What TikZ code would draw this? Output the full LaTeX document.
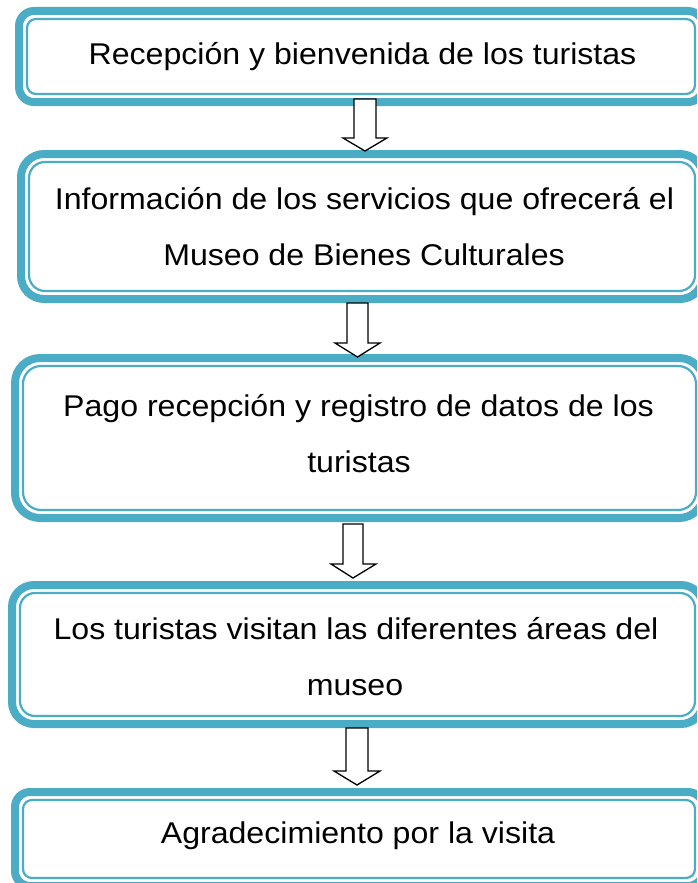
\documentclass[tikz,border=0pt]{standalone}
\usepackage{fontspec}
\setmainfont{Liberation Sans}[FakeStretch=1.07]
\definecolor{tealfive}{HTML}{4BACC6}
\begin{document}
\begin{tikzpicture}[x=1pt,y=-1pt,
  outerbox/.style={draw=tealfive,line width=8pt,rounded corners=#1,inner sep=0pt,outer sep=0pt,fill=white},
  innerbox/.style={draw=tealfive,line width=2.2pt,rounded corners=#1},
  txt/.style={anchor=base,inner sep=0pt,font=\fontsize{30}{56}\selectfont},
  blockarrow/.style={draw=black,fill=white,line width=1.3pt,line join=miter}]
\useasboundingbox (0,0) rectangle (697,883);
\clip (0,0) rectangle (697,883);

% boxes
\node[outerbox=15pt,minimum width=684pt,minimum height=91pt] (b1) at (361,56.5) {};
\draw[innerbox=9pt] ([shift={(8,8)}]b1.north west) rectangle ([shift={(-8,-8)}]b1.south east);

\node[outerbox=23pt,minimum width=682pt,minimum height=145pt] (b2) at (362,226.5) {};
\draw[innerbox=16pt] ([shift={(8,8)}]b2.north west) rectangle ([shift={(-8,-8)}]b2.south east);

\node[outerbox=25pt,minimum width=689pt,minimum height=160pt] (b3) at (359.5,438) {};
\draw[innerbox=18pt] ([shift={(8,8)}]b3.north west) rectangle ([shift={(-8,-8)}]b3.south east);

\node[outerbox=22pt,minimum width=691pt,minimum height=139pt] (b4) at (357.5,654.5) {};
\draw[innerbox=15pt] ([shift={(8,8)}]b4.north west) rectangle ([shift={(-8,-8)}]b4.south east);

\node[outerbox=15pt,minimum width=688pt,minimum height=94pt] (b5) at (359,839) {};
\draw[innerbox=9pt] ([shift={(8,8)}]b5.north west) rectangle ([shift={(-8,-8)}]b5.south east);

% texts
\node[txt] (t1) at (362.5,64) {Recepción y bienvenida de los turistas};
\node[txt] (t2a) at (364.5,209) {Información de los servicios que ofrecerá el};
\node[txt] (t2b) at (364,265) {Museo de Bienes Culturales};
\node[txt] (t3a) at (358.5,416) {Pago recepción y registro de datos de los};
\node[txt] (t3b) at (359,472) {turistas};
\node[txt] (t4a) at (356,639) {Los turistas visitan las diferentes áreas del};
\node[txt] (t4b) at (355,695) {museo};
\node[txt] (t5) at (358,843) {Agradecimiento por la visita};

% block arrows
\draw[blockarrow] (354,99) -- (376,99) -- (376,138) -- (387,138) -- (365,151) -- (343,138) -- (354,138) -- cycle;
\draw[blockarrow] (347,303) -- (368,303) -- (368,343) -- (380,343) -- (357.5,357) -- (335,343) -- (347,343) -- cycle;
\draw[blockarrow] (343,524) -- (363,524) -- (363,564) -- (376,564) -- (353,578) -- (331,564) -- (343,564) -- cycle;
\draw[blockarrow] (346,728) -- (368,728) -- (368,771) -- (380,771) -- (357,785) -- (334,771) -- (346,771) -- cycle;
\end{tikzpicture}
\end{document}
